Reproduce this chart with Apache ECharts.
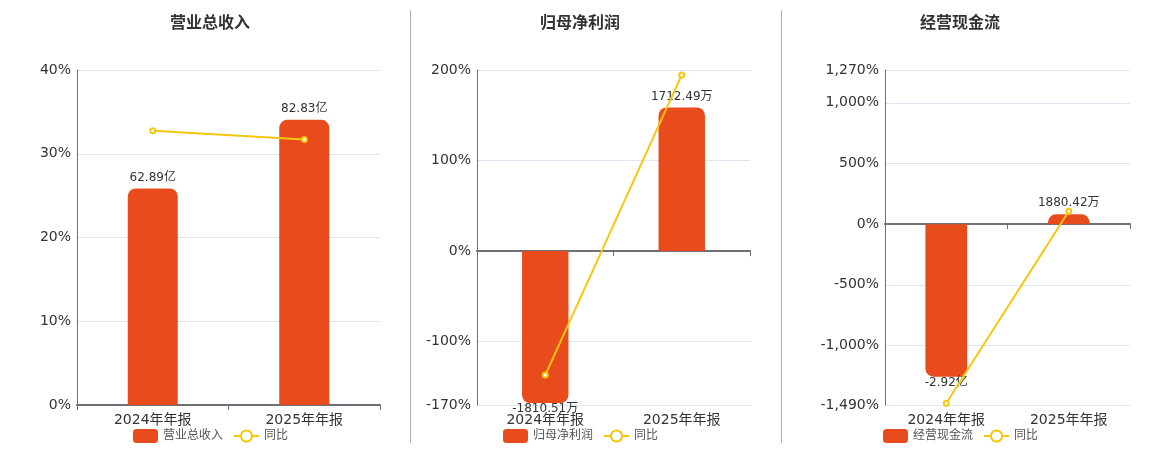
<!DOCTYPE html>
<html lang="zh">
  <head>
    <meta charset="UTF-8" />
    <title>财务指标</title>
    <script src="https://cdn.jsdelivr.net/npm/echarts@6.0.0/dist/echarts.min.js"></script>
    <style>
      html, body { margin: 0; padding: 0; background: #fff; }
      #main { width: 1160px; height: 450px; }
    </style>
  </head>
  <body>
    <div id="main"></div>

    <script>
      // amounts in 万元, growth in %
      const categories = ['2024年年报', '2025年年报'];
      const revenue = [628900, 828300];
      const revenueYoy = [32.75, 31.71];
      const netProfit = [-1810.51, 1712.49];
      const netProfitYoy = [-137.0, 194.59];
      const cashFlow = [-29200, 1880.42];
      const cashFlowYoy = [-1476, 106.44];

      const BAR_COLOR = '#e84c1c';
      const LINE_COLOR = '#f4c70f';
      const FONT = '"DejaVu Sans", "Noto Sans CJK SC", sans-serif';

      function fmtAmount(v) {
        if (Math.abs(v) >= 10000) return (v / 10000).toFixed(2) + '亿';
        return v.toFixed(2) + '万';
      }

      const panels = [
        { name: '营业总收入', bars: revenue, yoy: revenueYoy, center: 210, legendLeft: 128,
          grid: { left: 77, right: 780 }, pct: [0, 40], amt: [0, 973000], barWidth: '33%' },
        { name: '归母净利润', bars: netProfit, yoy: netProfitYoy, center: 580, legendLeft: 498,
          grid: { left: 477, right: 410 }, pct: [-170, 200], amt: [-1834, 2158], barWidth: '34%' },
        { name: '经营现金流', bars: cashFlow, yoy: cashFlowYoy, center: 960, legendLeft: 878,
          grid: { left: 885, right: 30 }, pct: [-1490, 1270], amt: [-34630, 29520], barWidth: '34%' },
      ];

      const grid = [], xAxis = [], yAxis = [], series = [], legend = [], graphic = [];

      panels.forEach((p, i) => {
        grid.push({ left: p.grid.left, right: p.grid.right, top: 70, bottom: 45 });

        // axis line at zero with ticks
        xAxis.push({
          type: 'category', gridIndex: i, data: categories,
          axisLine: { onZero: true, onZeroAxisIndex: 2 * i, lineStyle: { color: '#6e7079', width: 2 } },
          axisTick: { show: true, length: 5, lineStyle: { color: '#6e7079' } },
          axisLabel: { show: false },
        });
        // category labels at the bottom
        xAxis.push({
          type: 'category', gridIndex: i, data: categories, position: 'bottom',
          axisLine: { show: false, onZero: false }, axisTick: { show: false },
          axisLabel: { fontSize: 14, color: '#333', margin: 8 },
        });

        const pctAxis = {
          type: 'value', gridIndex: i, min: p.pct[0], max: p.pct[1],
          axisLine: { show: true, lineStyle: { color: '#6e7079' } },
          axisTick: { show: false },
          axisLabel: { formatter: '{value}%', fontSize: 14, color: '#333', margin: 6 },
          splitLine: { lineStyle: { color: '#e0e6f1' } },
        };
        if (i === 0) pctAxis.interval = 10;
        else pctAxis.splitNumber = 5;
        yAxis.push(pctAxis);
        yAxis.push({ type: 'value', gridIndex: i, min: p.amt[0], max: p.amt[1], show: false, splitLine: { show: false } });

        series.push({
          name: p.name, type: 'bar', xAxisIndex: 2 * i, yAxisIndex: 2 * i + 1,
          barWidth: p.barWidth,
          itemStyle: { color: BAR_COLOR },
          label: {
            show: true, position: 'top', distance: 5, fontSize: 12, color: '#333',
            formatter: (d) => fmtAmount(d.value),
          },
          data: p.bars.map((v) => v < 0
            ? { value: v, itemStyle: { borderRadius: [0, 0, 8, 8] }, label: { position: 'bottom', distance: 0 } }
            : { value: v, itemStyle: { borderRadius: [8, 8, 0, 0] } }),
        });
        series.push({
          name: '同比', type: 'line', xAxisIndex: 2 * i, yAxisIndex: 2 * i,
          symbol: 'emptyCircle', symbolSize: 5,
          lineStyle: { color: LINE_COLOR, width: 2 },
          itemStyle: { color: LINE_COLOR },
          data: p.yoy,
        });

        legend.push({
          data: [p.name, '同比'], left: p.legendLeft, top: 424,
          itemWidth: 25, itemHeight: 14, itemGap: 10,
          textStyle: { fontSize: 12, color: '#555' },
        });

        graphic.push({
          type: 'text', x: p.center, y: 24,
          style: { text: p.name, font: 'bold 16px ' + FONT, fill: '#333', align: 'center', verticalAlign: 'middle' },
        });
      });

      [410.5, 781.5].forEach((x) => {
        graphic.push({
          type: 'line', shape: { x1: x, y1: 10, x2: x, y2: 443 },
          style: { stroke: '#b0b0b0', lineWidth: 1 },
        });
      });

      const options = {
        animation: false,
        textStyle: { fontFamily: FONT },
        grid, xAxis, yAxis, series, legend, graphic,
      };

      var myChart = echarts.init(document.querySelector('#main'));
      myChart.setOption(options);

      window.onresize = function () {
        myChart.resize();
      };
    </script>
  </body>
</html>
